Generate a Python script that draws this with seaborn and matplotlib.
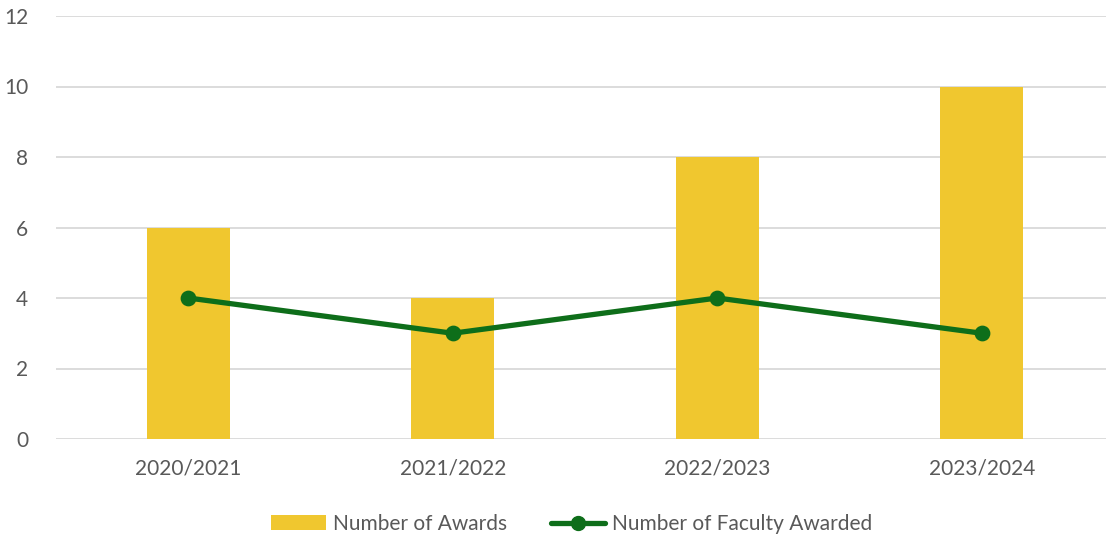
import matplotlib
matplotlib.use("Agg")
import matplotlib.pyplot as plt
import seaborn as sns
import pandas as pd
from matplotlib.lines import Line2D
from matplotlib.patches import Patch

years = ["2020/2021", "2021/2022", "2022/2023", "2023/2024"]
awards = [6, 4, 8, 10]
faculty_awarded = [4, 3, 4, 3]
y_ticks = [0, 2, 4, 6, 8, 10, 12]

bar_color = "#F0C72F"
line_color = "#0E6E1A"
text_color = "#595959"
grid_color = "#D9D9D9"

sns.set_theme(style="white")
plt.rcParams["font.family"] = ["Lato", "DejaVu Sans"]

df = pd.DataFrame({"year": years, "awards": awards, "faculty": faculty_awarded})

fig = plt.figure(figsize=(11.06, 5.39), dpi=100)
ax = fig.add_axes([56 / 1106, 1 - 439 / 539, 1058 / 1106, 423 / 539])

sns.barplot(data=df, x="year", y="awards", color=bar_color, width=0.315,
            saturation=1, ax=ax, zorder=2, edgecolor="none", linewidth=0)
sns.pointplot(data=df, x="year", y="faculty", color=line_color, ax=ax,
              markers="o", markersize=8.5, linewidth=3.8, zorder=3)

ax.set_ylim(0, 12)
ax.set_xlim(-0.5, 3.5)
ax.set_yticks(y_ticks)
ax.yaxis.grid(True, color=grid_color, linewidth=1.3, zorder=0)
ax.set_axisbelow(True)
for s in ax.spines.values():
    s.set_visible(False)
ax.set_xlabel("")
ax.set_ylabel("")
ax.tick_params(axis="both", length=0, labelsize=15, colors=text_color)
ax.tick_params(axis="x", pad=14)
ax.tick_params(axis="y", pad=20)
for lbl in ax.get_yticklabels():
    lbl.set_horizontalalignment("right")

handles = [
    Patch(facecolor=bar_color, edgecolor="none"),
    Line2D([0], [0], color=line_color, linewidth=3.8, marker="o", markersize=10),
]
fig.legend(handles, ["Number of Awards", "Number of Faculty Awarded"],
           loc="center", bbox_to_anchor=(572 / 1106, 1 - 524 / 539), ncol=2,
           frameon=False, fontsize=15, labelcolor=text_color,
           handlelength=2.6, handletextpad=0.35, columnspacing=2.1)

fig.savefig("out.png", dpi=100)
